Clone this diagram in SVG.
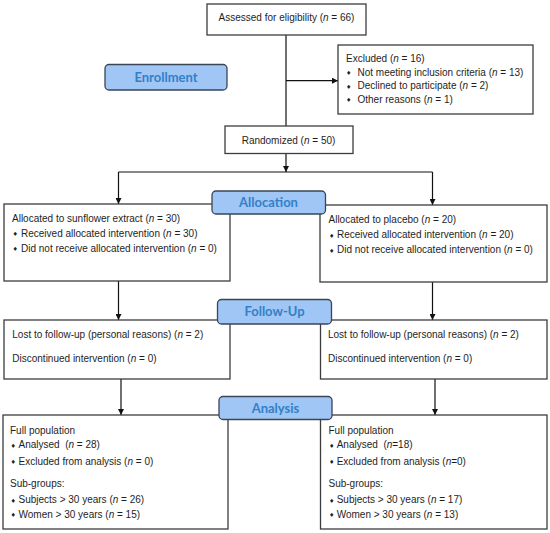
<svg xmlns="http://www.w3.org/2000/svg" width="550" height="533" viewBox="0 0 550 533">
<style>
.box{fill:#fff;stroke:#3c3c3c;stroke-width:1.3}
.pill{fill:#9fc6f4;stroke:#3a4656;stroke-width:1.3}
.pt{font-family:Lato,"Liberation Sans",sans-serif;font-weight:bold;font-size:13px;fill:#3380c8;text-anchor:middle}
.t{font-family:"Liberation Sans",Arial,sans-serif;font-size:10px;fill:#1e1e1e}
.b{font-family:"DejaVu Sans",sans-serif;font-size:6px;fill:#1e1e1e}
.i{font-style:italic}
.ln{fill:none;stroke:#111;stroke-width:1.2}
</style>
<defs>
<marker id="ah" viewBox="0 0 10 10" refX="10" refY="5" markerWidth="6" markerHeight="6" orient="auto" markerUnits="userSpaceOnUse">
<path d="M0,0 L10,5 L0,10 z" fill="#111"/>
</marker>
</defs>
<rect width="550" height="533" fill="#fff"/>
<g id="connectors">
<path class="ln" d="M286,35 V126"/>
<path class="ln" d="M286,80.7 H338" marker-end="url(#ah)"/>
<path class="ln" d="M286,153.5 V172" marker-end="url(#ah)"/>
<path class="ln" d="M118.5,172 H432.5"/>
<path class="ln" d="M118.5,172 V204" marker-end="url(#ah)"/>
<path class="ln" d="M432.5,172 V205" marker-end="url(#ah)"/>
<path class="ln" d="M118.5,281 V320" marker-end="url(#ah)"/>
<path class="ln" d="M432.5,282 V320" marker-end="url(#ah)"/>
<path class="ln" d="M121,379 V415" marker-end="url(#ah)"/>
<path class="ln" d="M435,379 V415" marker-end="url(#ah)"/>
</g>
<g id="assessed">
<rect class="box" x="207" y="4" width="159" height="31"/>
<text class="t" x="286.5" y="21" text-anchor="middle">Assessed for eligibility (<tspan class="i">n</tspan> = 66)</text>
</g>
<g id="excluded">
<rect class="box" x="338" y="45" width="195" height="69"/>
<text class="t" x="346" y="62">Excluded (<tspan class="i">n</tspan> = 16)</text>
<text class="b" x="346" y="75">♦</text><text class="t" x="357.5" y="75.5">Not meeting inclusion criteria (<tspan class="i">n</tspan> = 13)</text>
<text class="b" x="346" y="88.5">♦</text><text class="t" x="357.5" y="89">Declined to participate (<tspan class="i">n</tspan> = 2)</text>
<text class="b" x="346" y="102">♦</text><text class="t" x="357.5" y="102.5">Other reasons (<tspan class="i">n</tspan> = 1)</text>
</g>
<g id="enrollment">
<rect class="pill" x="105" y="64.5" width="122" height="25.5" rx="4"/>
<text class="pt" x="166" y="81.5">Enrollment</text>
</g>
<g id="randomized">
<rect class="box" x="225" y="126" width="128" height="27.5"/>
<text class="t" x="288.5" y="144" text-anchor="middle">Randomized (<tspan class="i">n</tspan> = 50)</text>
</g>
<g id="alloc-left">
<rect class="box" x="4" y="204" width="226" height="77"/>
<text class="t" x="12" y="221.5">Allocated to sunflower extract (<tspan class="i">n</tspan> = 30)</text>
<text class="b" x="12.5" y="236">♦</text><text class="t" x="21" y="236.5">Received allocated intervention (<tspan class="i">n</tspan> = 30)</text>
<text class="b" x="12.5" y="251">♦</text><text class="t" x="21" y="251.5">Did not receive allocated intervention (<tspan class="i">n</tspan> = 0)</text>
</g>
<g id="alloc-right">
<rect class="box" x="320" y="205" width="227" height="77"/>
<text class="t" x="328.5" y="223">Allocated to placebo (<tspan class="i">n</tspan> = 20)</text>
<text class="b" x="329" y="237.5">♦</text><text class="t" x="337" y="238">Received allocated intervention (<tspan class="i">n</tspan> = 20)</text>
<text class="b" x="329" y="252.5">♦</text><text class="t" x="337" y="253">Did not receive allocated intervention (<tspan class="i">n</tspan> = 0)</text>
</g>
<g id="allocation">
<rect class="pill" x="212" y="191" width="113.5" height="23" rx="4"/>
<text class="pt" x="268.5" y="207">Allocation</text>
</g>
<g id="follow-left">
<rect class="box" x="4" y="320" width="226" height="59"/>
<text class="t" x="12.3" y="338">Lost to follow-up (personal reasons) (<tspan class="i">n</tspan> = 2)</text>
<text class="t" x="12.3" y="361.5">Discontinued intervention (<tspan class="i">n</tspan> = 0)</text>
</g>
<g id="follow-right">
<rect class="box" x="320.5" y="320" width="226.5" height="59"/>
<text class="t" x="328" y="338">Lost to follow-up (personal reasons) (<tspan class="i">n</tspan> = 2)</text>
<text class="t" x="328" y="361.5">Discontinued intervention (<tspan class="i">n</tspan> = 0)</text>
</g>
<g id="follow-up">
<rect class="pill" x="217.5" y="299.5" width="114" height="24.5" rx="4"/>
<text class="pt" x="274.5" y="316">Follow-Up</text>
</g>
<g id="analysis-left">
<rect class="box" x="3" y="415" width="225" height="114"/>
<text class="t" x="10" y="433.5">Full population</text>
<text class="b" x="10.5" y="447.5">♦</text><text class="t" x="18.5" y="448">Analysed&#160; (<tspan class="i">n</tspan> = 28)</text>
<text class="b" x="10.5" y="464">♦</text><text class="t" x="18.5" y="464.5">Excluded from analysis (<tspan class="i">n</tspan> = 0)</text>
<text class="t" x="10" y="487">Sub-groups:</text>
<text class="b" x="10.5" y="502.5">♦</text><text class="t" x="18.5" y="503">Subjects &gt; 30 years (<tspan class="i">n</tspan> = 26)</text>
<text class="b" x="10.5" y="517">♦</text><text class="t" x="18.5" y="517.5">Women &gt; 30 years (<tspan class="i">n</tspan> = 15)</text>
</g>
<g id="analysis-right">
<rect class="box" x="320.5" y="415" width="226.5" height="114"/>
<text class="t" x="328.5" y="433.5">Full population</text>
<text class="b" x="329" y="447.5">♦</text><text class="t" x="336.7" y="448">Analysed&#160; (<tspan class="i">n</tspan>=18)</text>
<text class="b" x="329" y="464">♦</text><text class="t" x="336.7" y="464.5">Excluded from analysis (<tspan class="i">n</tspan>=0)</text>
<text class="t" x="328.5" y="487">Sub-groups:</text>
<text class="b" x="329" y="502.5">♦</text><text class="t" x="336.7" y="503">Subjects &gt; 30 years (<tspan class="i">n</tspan> = 17)</text>
<text class="b" x="329" y="517">♦</text><text class="t" x="336.7" y="517.5">Women &gt; 30 years (<tspan class="i">n</tspan> = 13)</text>
</g>
<g id="analysis">
<rect class="pill" x="219" y="396.5" width="113" height="23" rx="4"/>
<text class="pt" x="275.5" y="412.5">Analysis</text>
</g>
</svg>
